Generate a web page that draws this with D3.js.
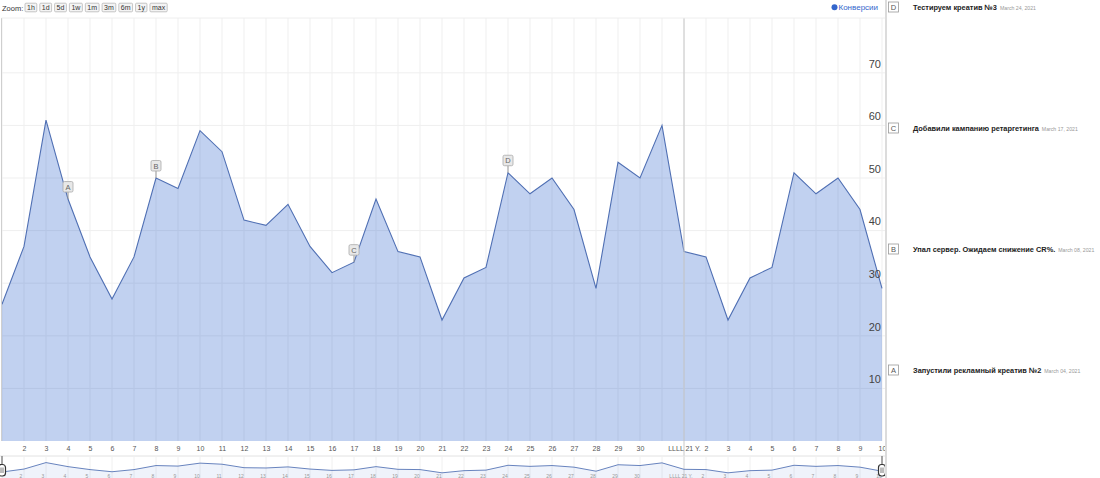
<!DOCTYPE html>
<html>
<head>
<meta charset="utf-8">
<script src="https://cdn.jsdelivr.net/npm/d3@7"></script>
<style>
  body { margin: 0; background: #fff; font-family: Arial, "Liberation Sans", sans-serif; }
  svg { display: block; }
</style>
</head>
<body>
<div id="chart"></div>
<script>
// days of the chart: March 1 .. April 10, 2021
const firstDay = new Date(2021, 2, 1);
const lastDay = new Date(2021, 3, 10);
const days = d3.timeDay.range(firstDay, d3.timeDay.offset(lastDay, 1));

// "Конверсии", one value per day
const conversions = [26, 37, 61, 46, 35, 27, 35, 50, 48, 59, 55, 42, 41, 45, 37, 32, 34, 46, 36, 35,
  23, 31, 33, 51, 47, 50, 44, 29, 53, 50, 60, 36, 35, 23, 31, 33, 51, 47, 50, 44, 29];

const yTicks = [10, 20, 30, 40, 50, 60, 70];
const zoomButtons = ["1h", "1d", "5d", "1w", "1m", "3m", "6m", "1y", "max"];
const monthLabel = "LLLL 21 Y.";

const noteLetters = ["A", "B", "C", "D"];
const noteDays = [new Date(2021, 2, 4), new Date(2021, 2, 8), new Date(2021, 2, 17), new Date(2021, 2, 24)];
const noteTitles = ["Запустили рекламный креатив №2", "Упал сервер. Ожидаем снижение CR%.",
  "Добавили кампанию ретаргетинга", "Тестируем креатив №3"];
const noteDateLabels = ["March 04, 2021", "March 08, 2021", "March 17, 2021", "March 24, 2021"];

const width = 1100, height = 478;
const plot = { left: 2, right: 882, top: 18, bottom: 441 };
const nav = { top: 456, bottom: 479 };
const blue = "#3366cc";
const lineBlue = "#4f6fb3";

const points = days.map((d, i) => ({ date: d, value: conversions[i] }));

const svg = d3.select("#chart").append("svg")
    .attr("width", width)
    .attr("height", height);

const x = d3.scaleTime()
    .domain([firstDay, lastDay])
    .range([plot.left, plot.right]);

const y = d3.scaleLinear()
    .domain([0, 80])
    .range([plot.bottom, plot.bottom - 80 * 5.26]);

const yNav = d3.scaleLinear()
    .domain([0, 80])
    .range([nav.bottom, nav.bottom - 80 * 0.269]);

// ---- top bar: zoom buttons + legend
svg.append("text")
    .attr("x", 2).attr("y", 10.5)
    .style("font-size", "7.5px").style("fill", "#333")
    .text("Zoom:");
let bx = 25;
zoomButtons.forEach(label => {
  let g = svg.append("g");
  let t = g.append("text")
      .attr("y", 10.3)
      .style("font-size", "7px").style("fill", "#333")
      .text(label);
  let w = t.node().getComputedTextLength() + 4;
  t.attr("x", bx + 2);
  g.insert("rect", "text")
      .attr("x", bx).attr("y", 3.2)
      .attr("width", w).attr("height", 8.6)
      .attr("rx", 1)
      .style("fill", "#f4f4f4")
      .style("stroke", "#b8b8b8")
      .style("stroke-width", 0.8);
  bx += w + 3;
});

svg.append("circle")
    .attr("cx", 834.5).attr("cy", 7.2).attr("r", 3)
    .style("fill", blue);
svg.append("text")
    .attr("x", 838.5).attr("y", 10)
    .style("font-size", "8px").style("fill", blue)
    .text("Конверсии");

// ---- grid
svg.append("g").selectAll("line")
    .data(days)
    .enter().append("line")
    .attr("x1", d => x(d)).attr("x2", d => x(d))
    .attr("y1", plot.top).attr("y2", plot.bottom)
    .style("stroke", "#efefef");

svg.append("g").selectAll("line")
    .data(yTicks)
    .enter().append("line")
    .attr("x1", plot.left).attr("x2", plot.right + 3)
    .attr("y1", d => y(d)).attr("y2", d => y(d))
    .style("stroke", "#efefef");

// ---- area + line
const area = d3.area()
    .x(d => x(d.date))
    .y0(y(0))
    .y1(d => y(d.value));

const line = d3.line()
    .x(d => x(d.date))
    .y(d => y(d.value));

svg.append("path")
    .datum(points)
    .attr("d", area)
    .style("fill", blue)
    .style("fill-opacity", 0.3);

svg.append("path")
    .datum(points)
    .attr("d", line)
    .style("fill", "none")
    .style("stroke", lineBlue)
    .style("stroke-width", 1.1);

// month boundary
const april = new Date(2021, 3, 1);
svg.append("line")
    .attr("x1", x(april)).attr("x2", x(april))
    .attr("y1", plot.top).attr("y2", nav.bottom)
    .style("stroke", "#c8c8c8");

// plot frame
svg.append("line")
    .attr("x1", 1.5).attr("x2", 1.5)
    .attr("y1", plot.top).attr("y2", plot.bottom)
    .style("stroke", "#cfcfcf");
svg.append("line")
    .attr("x1", 1.5).attr("x2", plot.right + 3)
    .attr("y1", plot.top).attr("y2", plot.top)
    .style("stroke", "#eeeeee");

// ---- y axis (right side, labels above gridlines)
const yAxis = svg.append("g")
    .attr("transform", `translate(${plot.right - 1},0)`)
    .call(d3.axisLeft(y).tickValues(yTicks).tickSize(0).tickPadding(0));
yAxis.select(".domain").remove();
yAxis.selectAll("text")
    .attr("y", -9.5)
    .attr("dy", "0.35em")
    .style("font-family", "Arial, 'Liberation Sans', sans-serif")
    .style("font-size", "11px")
    .style("fill", "#444");

// ---- x axis
const labelDays = days.filter(d => !(d.getMonth() === 2 && (d.getDate() === 1 || d.getDate() === 31)));
const dayFormat = d => d.getDate() === 1 ? monthLabel : String(d.getDate());

const xAxis = svg.append("g")
    .attr("transform", `translate(0,${plot.bottom})`)
    .call(d3.axisBottom(x).tickValues(labelDays).tickFormat(dayFormat).tickSize(0).tickPadding(5));
xAxis.select(".domain").remove();
xAxis.selectAll("text")
    .style("font-family", "Arial, 'Liberation Sans', sans-serif")
    .style("font-size", "7px")
    .style("fill", "#555");

// ---- navigator
svg.append("line")
    .attr("x1", 0).attr("x2", plot.right + 3)
    .attr("y1", nav.top).attr("y2", nav.top)
    .style("stroke", "#e2e2e2");

svg.append("g").selectAll("line")
    .data(days)
    .enter().append("line")
    .attr("x1", d => x(d)).attr("x2", d => x(d))
    .attr("y1", nav.top).attr("y2", nav.bottom)
    .style("stroke", "#f0f0f0");

const navArea = d3.area()
    .x(d => x(d.date))
    .y0(yNav(0))
    .y1(d => yNav(d.value));
const navLine = d3.line()
    .x(d => x(d.date))
    .y(d => yNav(d.value));

svg.append("path")
    .datum(points)
    .attr("d", navArea)
    .style("fill", blue)
    .style("fill-opacity", 0.08);
svg.append("path")
    .datum(points)
    .attr("d", navLine)
    .style("fill", "none")
    .style("stroke", lineBlue)
    .style("stroke-opacity", 0.85)
    .style("stroke-width", 1);

svg.append("g").selectAll("text")
    .data(labelDays)
    .enter().append("text")
    .attr("x", d => x(d) - 3)
    .attr("y", 477.5)
    .attr("text-anchor", "middle")
    .style("font-size", "5px")
    .style("fill", "#999")
    .text(dayFormat);

// handles
[firstDay, lastDay].forEach(d => {
  let hx = x(d);
  svg.append("line")
      .attr("x1", hx).attr("x2", hx)
      .attr("y1", nav.top).attr("y2", 465)
      .style("stroke", "#555");
  svg.append("rect")
      .attr("x", hx - 3.5).attr("y", 464.5)
      .attr("width", 7).attr("height", 11.5)
      .attr("rx", 3)
      .style("fill", "#fff")
      .style("stroke", "#333")
      .style("stroke-width", 1.2);
  svg.append("line")
      .attr("x1", hx - 1).attr("x2", hx - 1)
      .attr("y1", 467.5).attr("y2", 473)
      .style("stroke", "#555").style("stroke-width", 0.8);
  svg.append("line")
      .attr("x1", hx + 1).attr("x2", hx + 1)
      .attr("y1", 467.5).attr("y2", 473)
      .style("stroke", "#555").style("stroke-width", 0.8);
});

// ---- annotation flags on the chart
const notes = noteLetters.map((l, i) => ({
  letter: l,
  date: noteDays[i],
  title: noteTitles[i],
  dateLabel: noteDateLabels[i],
  value: conversions[d3.timeDay.count(firstDay, noteDays[i])]
}));

const flags = svg.append("g").selectAll("g")
    .data(notes)
    .enter().append("g")
    .attr("transform", d => `translate(${x(d.date)},${y(d.value)})`);

flags.append("line")
    .attr("y1", -7).attr("y2", 0)
    .style("stroke", "#999");
flags.append("rect")
    .attr("x", -5).attr("y", -17.5)
    .attr("width", 10).attr("height", 10.5)
    .attr("rx", 1.5)
    .style("fill", "#e8e8e8")
    .style("stroke", "#aaa")
    .style("stroke-width", 0.8);
flags.append("text")
    .attr("y", -9.5)
    .attr("text-anchor", "middle")
    .style("font-size", "7.5px")
    .style("fill", "#666")
    .text(d => d.letter);

// ---- annotation panel
svg.append("line")
    .attr("x1", 886).attr("x2", 886)
    .attr("y1", 0).attr("y2", height)
    .style("stroke", "#dcdcdc")
    .style("stroke-width", 2);

const rows = svg.append("g").selectAll("g")
    .data(notes.slice().reverse())
    .enter().append("g")
    .attr("transform", (d, i) => `translate(888,${7 + i * 121})`);

rows.append("rect")
    .attr("x", 0.5).attr("y", -5)
    .attr("width", 10).attr("height", 10)
    .style("fill", "#fff")
    .style("stroke", "#999")
    .style("stroke-width", 0.8);
rows.append("text")
    .attr("x", 5.5).attr("y", 2.8)
    .attr("text-anchor", "middle")
    .style("font-size", "7.5px")
    .style("fill", "#555")
    .text(d => d.letter);

rows.each(function(d) {
  let g = d3.select(this);
  let t = g.append("text")
      .attr("x", 25).attr("y", 3)
      .style("font-size", "7.4px")
      .style("font-weight", "bold")
      .style("fill", "#222")
      .text(d.title);
  let w = t.node().getComputedTextLength();
  g.append("text")
      .attr("x", 25 + w + 3).attr("y", 3)
      .style("font-size", "5.2px")
      .style("fill", "#999")
      .text(d.dateLabel);
});
</script>
</body>
</html>
